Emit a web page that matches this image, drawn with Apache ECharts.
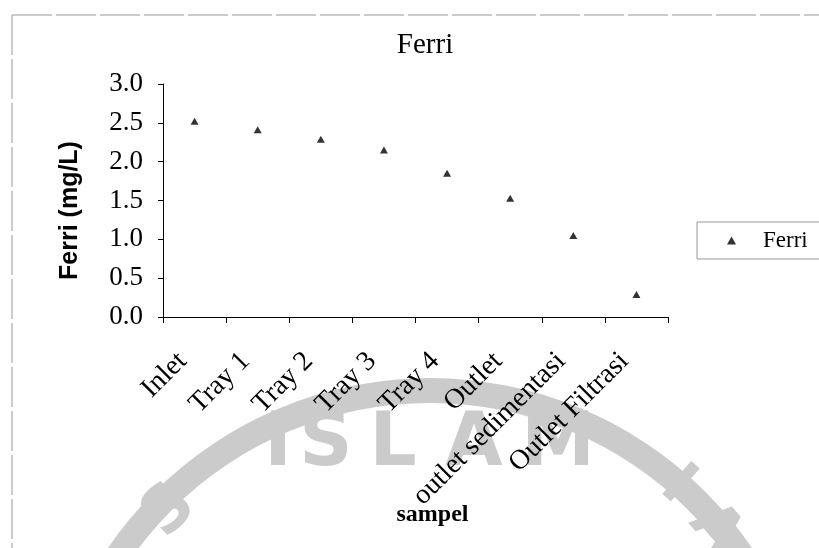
<!DOCTYPE html>
<html>
<head>
<meta charset="utf-8">
<script src="https://cdn.jsdelivr.net/npm/echarts@6/dist/echarts.min.js"></script>
<style>html,body{margin:0;padding:0;background:#fff;}#c{width:819px;height:548px;}</style>
</head>
<body>
<div id="c"></div>
<script>
const categories = ['Inlet', 'Tray 1', 'Tray 2', 'Tray 3', 'Tray 4', 'Outlet', 'outlet sedimentasi', 'Outlet Filtrasi'];
const ferri = [2.52, 2.41, 2.29, 2.15, 1.85, 1.53, 1.05, 0.29];
const yTicks = [0, 0.5, 1.0, 1.5, 2.0, 2.5, 3.0];

const SERIF = '"Liberation Serif", "Times New Roman", serif';
const SANS = '"Liberation Sans", Arial, sans-serif';
const WM = '#cbcbcb';
const WMFONT = 'bold 74px "DejaVu Sans", sans-serif';

const chart = echarts.init(document.getElementById('c'), null, {renderer: 'canvas'});
chart.setOption({
  backgroundColor: '#fff',
  animation: false,
  title: {
    text: 'Ferri', left: 420, top: 26, textAlign: 'center', z: 10,
    textStyle: {fontFamily: SERIF, fontSize: 29, fontWeight: 'normal', color: '#000'}
  },
  legend: {
    left: 697, top: 222, z: 10,
    data: ['Ferri'],
    icon: 'triangle', itemWidth: 9, itemHeight: 8,
    borderColor: '#999', borderWidth: 1,
    padding: [7, 40, 7, 30],
    textStyle: {fontFamily: SERIF, fontSize: 23, color: '#000', padding: [0, 0, 0, 22]}
  },
  grid: {left: 163, right: 151, top: 84, bottom: 231, containLabel: false},
  xAxis: {
    type: 'category', data: categories, z: 10,
    boundaryGap: true,
    name: 'sampel', nameLocation: 'middle', nameGap: 186, nameMoveOverlap: false,
    nameTextStyle: {fontFamily: SERIF, fontSize: 24, fontWeight: 'bold', color: '#000', padding: [0, 0, 0, 34]},
    axisLine: {lineStyle: {color: '#000', width: 1}},
    axisTick: {show: true, inside: false, length: 6, alignWithLabel: false, lineStyle: {color: '#000'}},
    axisLabel: {rotate: 45, interval: 0, margin: 28, fontFamily: SERIF, fontSize: 28, color: '#000', padding: [0, 17, 0, 0]},
    splitLine: {show: false}
  },
  yAxis: {
    type: 'value', min: 0, max: 3, interval: 0.5, z: 10,
    name: 'Ferri (mg/L)', nameLocation: 'middle', nameGap: 80, nameRotate: 90, nameMoveOverlap: false,
    nameTextStyle: {fontFamily: SANS, fontSize: 25, fontWeight: 'bold', color: '#000', padding: [0, 20, 0, 0]},
    axisLine: {show: true, lineStyle: {color: '#000', width: 1}},
    axisTick: {show: true, inside: false, length: 5, lineStyle: {color: '#000'}},
    axisLabel: {margin: 20, fontFamily: SERIF, fontSize: 27, color: '#000',
      formatter: v => v.toFixed(1)},
    splitLine: {show: false}
  },
  series: [{
    name: 'Ferri', type: 'scatter', data: ferri, z: 10,
    symbol: 'triangle', symbolSize: [8, 7],
    itemStyle: {color: '#000'}
  }],
  graphic: {
    elements: [
      {type: 'ring', z: -10, silent: true, shape: {cx: 430, cy: 768, r: 390, r0: 365}, style: {fill: WM}},
      {type: 'text', z: -10, silent: true, x: 278, y: 446, style: {text: 'I', font: WMFONT, fill: WM, align: 'center', verticalAlign: 'middle'}},
      {type: 'text', z: -10, silent: true, x: 326, y: 446, style: {text: 'S', font: WMFONT, fill: WM, align: 'center', verticalAlign: 'middle'}},
      {type: 'text', z: -10, silent: true, x: 393, y: 446, style: {text: 'L', font: WMFONT, fill: WM, align: 'center', verticalAlign: 'middle'}},
      {type: 'text', z: -10, silent: true, x: 474, y: 446, style: {text: 'A', font: WMFONT, fill: WM, align: 'center', verticalAlign: 'middle'}},
      {type: 'text', z: -10, silent: true, x: 558, y: 446, style: {text: 'M', font: WMFONT, fill: WM, align: 'center', verticalAlign: 'middle'}},
      {type: 'text', z: -10, silent: true, x: 170, y: 512, rotation: Math.PI / 4, style: {text: 'S', font: 'bold 64px "DejaVu Sans", sans-serif', fill: WM, align: 'center', verticalAlign: 'middle'}},
      {type: 'text', z: -10, silent: true, x: 677, y: 486, rotation: -0.72, style: {text: 'I', font: 'bold 60px "DejaVu Sans", sans-serif', fill: WM, align: 'center', verticalAlign: 'middle'}},
      {type: 'text', z: -10, silent: true, x: 715, y: 530, rotation: -0.86, style: {text: 'A', font: 'bold 60px "DejaVu Sans", sans-serif', fill: WM, align: 'center', verticalAlign: 'middle'}},
      {type: 'line', z: -5, silent: true, shape: {x1: 12, y1: 15, x2: 819, y2: 15}, style: {stroke: '#999', lineWidth: 1, lineDash: [40, 4]}},
      {type: 'line', z: -5, silent: true, shape: {x1: 12, y1: 15, x2: 12, y2: 548}, style: {stroke: '#999', lineWidth: 1, lineDash: [40, 4]}}
    ]
  }
});
</script>
</body>
</html>
